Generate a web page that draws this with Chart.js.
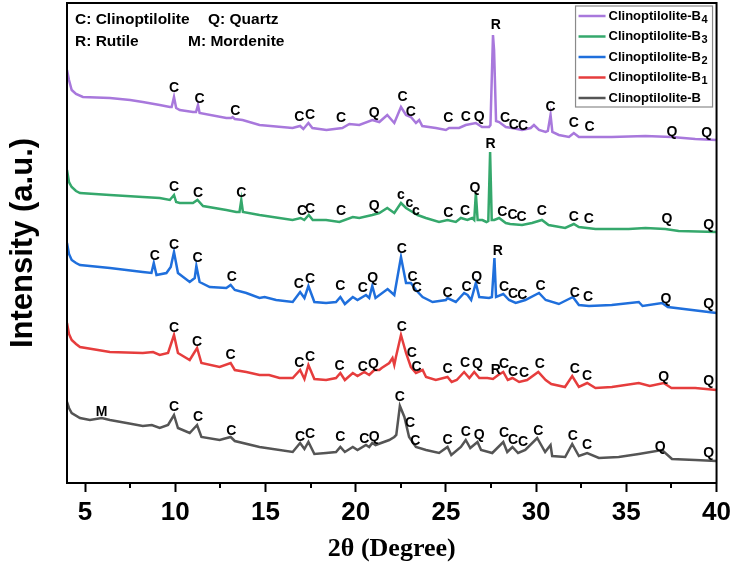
<!DOCTYPE html>
<html>
<head>
<meta charset="utf-8">
<title>XRD patterns of clinoptilolite samples</title>
<script src="https://cdn.jsdelivr.net/npm/chart.js@4.4.1/dist/chart.umd.min.js"></script>
<style>
  html, body { margin: 0; padding: 0; background: #fff; }
  #wrap { width: 736px; height: 569px; }
</style>
</head>
<body>
<div id="wrap"><canvas id="xrd-chart" width="736" height="569"></canvas></div>
<script>
// ===== DATA =====
// x axis
const xTicks = [5, 10, 15, 20, 25, 30, 35, 40];
const minorTicks = [7.5, 12.5, 17.5, 22.5, 27.5, 32.5, 37.5];

// legend (top to bottom) with subscripts
const legendBase = 'Clinoptilolite-B';
const legendSubs = ['4', '3', '2', '1', ''];

// Clinoptilolite-B4
const b4Angle = [4.00,4.11,4.26,4.50,4.88,6.38,7.50,8.20,9.14,9.70,9.80,9.93,10.05,10.25,10.98,11.15,11.26,11.35,12.83,13.10,13.18,13.30,13.73,14.67,16.50,16.92,17.10,17.38,17.60,18.38,19.26,19.65,20.20,20.92,21.31,21.75,22.14,22.51,22.79,23.06,23.34,23.52,23.69,24.44,25.00,25.18,25.73,26.10,26.66,27.00,27.39,27.47,27.61,27.67,27.78,27.95,28.32,28.66,29.22,29.70,29.88,30.16,30.53,30.65,30.80,30.90,31.26,31.82,32.09,32.37,33.29,34.19,36.06,37.51,38.82,40.00];
const b4Counts = [413,403,393,389,386,385,383,381,378,376,376,386,375,373,371,371,378,370,365,365,366,364,363,358,355,357,354,360,355,353,355,359,358,363,361,368,360,376,368,366,360,363,357,355,353,355,355,358,360,356,356,358,448,433,362,361,356,355,353,355,358,353,351,352,368,351,348,346,350,346,346,346,347,346,344,343];

// Clinoptilolite-B3
const b3Angle = [4.00,4.11,4.26,4.50,4.72,6.38,8.20,9.14,9.70,9.93,10.05,10.25,10.98,11.23,11.54,12.83,13.38,13.56,13.66,13.75,14.67,16.50,16.95,17.15,17.40,17.62,18.36,19.10,19.84,20.20,20.92,21.31,21.75,22.14,22.51,22.79,23.15,23.43,23.89,24.62,25.09,25.55,25.83,26.19,26.46,26.57,26.66,26.76,27.02,27.25,27.35,27.45,27.54,27.68,27.95,28.32,28.56,29.22,29.77,30.32,30.69,31.61,32.09,32.37,33.29,35.13,36.06,37.16,37.90,40.00];
const b3Counts = [313,301,296,292,290,288,286,285,283,288,281,280,280,283,277,273,271,271,283,271,268,263,265,263,268,263,263,261,266,265,268,270,275,270,280,275,271,268,265,261,263,261,265,263,265,263,290,263,263,261,262,331,263,263,265,260,259,258,260,263,258,255,259,256,254,254,255,254,252,251];

// Clinoptilolite-B2
const b2Angle = [4.00,4.11,4.26,4.50,4.72,6.38,8.20,8.68,8.81,8.96,9.51,9.75,9.93,10.15,10.80,11.08,11.17,11.35,11.91,12.83,13.07,13.30,13.94,14.67,14.95,15.59,16.51,16.92,17.16,17.38,17.71,18.36,18.91,19.15,19.40,19.84,20.10,20.57,20.75,20.92,21.10,21.77,22.14,22.51,22.79,23.06,23.34,23.71,24.26,25.00,25.09,25.55,26.01,26.20,26.40,26.66,26.85,27.39,27.55,27.69,27.78,28.18,28.50,28.87,29.40,30.16,30.53,31.26,32.04,32.37,32.93,34.19,35.69,35.90,36.98,37.30,40.00];
const b2Counts = [240,229,223,220,218,215,211,210,220,208,210,216,231,210,201,205,217,201,196,195,198,193,190,185,186,183,181,191,185,197,181,180,181,186,179,186,183,188,185,197,185,194,188,226,200,200,193,186,181,183,185,181,190,188,183,200,186,185,186,225,186,189,183,180,183,190,183,179,186,178,177,178,181,177,180,176,170];

// Clinoptilolite-B1
const b1Angle = [4.00,4.11,4.26,4.50,4.72,6.38,8.20,8.77,9.14,9.60,9.93,10.15,10.80,11.21,11.45,12.46,13.07,13.30,13.94,14.67,15.20,15.78,16.51,16.92,17.16,17.38,17.71,18.36,18.91,19.15,19.40,19.84,20.10,20.48,20.75,21.03,21.31,21.44,21.86,22.04,22.14,22.23,22.51,22.79,23.06,23.34,23.71,23.90,24.44,25.09,25.32,25.60,26.01,26.30,26.57,26.85,27.30,27.61,27.90,28.18,28.43,28.69,29.06,29.50,30.12,30.53,30.84,31.60,32.00,32.37,32.83,33.29,34.20,35.69,36.30,37.07,37.50,38.82,40.00];
const b1Counts = [160,149,143,139,136,131,130,131,128,130,148,130,123,135,120,116,120,113,111,108,108,105,105,113,104,118,104,103,105,110,103,110,107,111,108,113,113,115,120,125,118,126,148,130,116,110,113,106,103,106,101,103,111,105,111,105,105,104,108,111,103,105,101,103,111,103,99,96,107,96,100,95,96,100,97,100,95,95,93];

// Clinoptilolite-B
const bAngle = [4.00,4.11,4.26,4.72,5.27,5.92,6.38,7.30,8.20,8.70,9.14,9.60,9.93,10.15,10.80,11.21,11.45,12.46,13.07,13.30,14.67,16.51,16.92,17.16,17.38,17.71,18.36,18.91,19.15,19.40,19.84,20.10,20.57,20.75,20.92,21.10,21.86,22.14,22.25,22.45,22.70,22.96,23.34,23.90,24.62,25.09,25.30,25.83,26.10,26.35,26.75,26.95,27.57,28.18,28.40,28.69,29.00,29.40,30.06,30.50,30.80,30.89,31.61,32.00,32.37,32.83,33.48,34.58,35.69,36.98,37.53,38.82,40.00];
const bCounts = [81,75,70,65,63,65,63,60,57,58,55,58,68,55,50,58,46,43,46,42,36,31,40,34,41,29,30,31,36,31,36,33,38,36,40,38,43,46,48,77,66,46,36,33,30,36,28,36,43,35,41,33,30,41,31,36,30,33,45,31,38,27,26,39,27,30,25,26,29,33,24,23,22];

// peak labels: [2θ, intensity, phase letter]
const b4Peaks = [[9.93,395,'C'],[11.35,384,'C'],[13.33,372,'C'],[16.88,366,'C'],[17.47,368,'C'],[19.19,365,'C'],[21.03,370,'Q'],[22.60,386,'C'],[23.06,371,'C'],[25.14,365,'C'],[26.10,366,'C'],[26.84,366,'Q'],[27.76,458,'R'],[28.28,365,'C'],[28.77,358,'C'],[29.27,357,'C'],[30.80,376,'C'],[32.09,360,'C'],[32.96,356,'C'],[37.53,351,'Q'],[39.46,350,'Q']];
const b3Peaks = [[9.93,296,'C'],[11.26,290,'C'],[13.66,290,'C'],[17.03,272,'C'],[17.47,274,'C'],[19.19,272,'C'],[21.03,277,'Q'],[22.51,288,'c'],[22.97,280,'c'],[23.34,272,'c'],[25.14,270,'C'],[26.06,272,'C'],[26.61,295,'Q'],[27.48,339,'R'],[28.13,271,'C'],[28.69,268,'C'],[29.20,266,'C'],[30.31,272,'C'],[32.09,266,'C'],[32.92,264,'C'],[37.25,264,'Q'],[39.56,258,'Q']];
const b2Peaks = [[8.87,227,'C'],[9.93,238,'C'],[11.23,225,'C'],[13.14,206,'C'],[16.85,199,'C'],[17.47,204,'C'],[19.15,197,'C'],[20.39,195,'C'],[20.94,205,'Q'],[22.56,234,'C'],[23.15,206,'C'],[23.39,195,'C'],[25.09,190,'C'],[26.14,196,'C'],[26.71,206,'Q'],[27.87,232,'R'],[28.22,196,'C'],[28.72,189,'C'],[29.23,188,'C'],[30.25,197,'C'],[32.15,190,'C'],[32.88,186,'C'],[37.20,184,'Q'],[39.56,179,'Q']];
const b1Peaks = [[9.93,155,'C'],[11.21,141,'C'],[13.07,128,'C'],[16.88,120,'C'],[17.47,126,'C'],[19.10,117,'C'],[20.39,116,'C'],[20.99,119,'Q'],[22.56,156,'C'],[23.11,130,'C'],[23.37,116,'C'],[25.09,114,'C'],[26.06,120,'C'],[26.75,119,'Q'],[27.76,113,'R'],[28.22,119,'C'],[28.72,111,'C'],[29.33,110,'C'],[30.20,119,'C'],[32.15,114,'C'],[32.83,107,'C'],[37.07,106,'Q'],[39.56,102,'Q']];
const bPeaks = [[5.92,71,'M'],[9.93,76,'C'],[11.26,66,'C'],[13.11,52,'C'],[16.92,46,'C'],[17.47,49,'C'],[19.15,46,'C'],[20.48,44,'C'],[21.03,46,'Q'],[22.45,86,'C'],[23.01,60,'C'],[23.30,42,'C'],[25.09,43,'C'],[26.10,51,'C'],[26.84,48,'Q'],[28.22,50,'C'],[28.72,43,'C'],[29.27,41,'C'],[30.12,52,'C'],[32.04,47,'C'],[32.83,38,'C'],[36.88,36,'Q'],[39.56,30,'Q']];

// phase key text (top-left corner)
const phaseKey = [['C: Clinoptilolite', 'Q: Quartz'], ['R: Rutile', 'M: Mordenite']];

const SANS = "'Liberation Sans', Arial, Helvetica, sans-serif";
const SERIF = "'Liberation Serif', 'Times New Roman', serif";

/**
 * Builds and draws the stacked XRD pattern chart
 */
class XrdChartManager {
  constructor() {
    this.chart = null;
    this.init();
  }

  /**
   * Initialize chart
   */
  init() {
    const ctx = document.getElementById('xrd-chart');
    if (!ctx) return;

    const series = [
      { angle: b4Angle, counts: b4Counts, peaks: b4Peaks, color: '#a878dc' },
      { angle: b3Angle, counts: b3Counts, peaks: b3Peaks, color: '#35a86c' },
      { angle: b2Angle, counts: b2Counts, peaks: b2Peaks, color: '#1f6fdc' },
      { angle: b1Angle, counts: b1Counts, peaks: b1Peaks, color: '#e63d3d' },
      { angle: bAngle, counts: bCounts, peaks: bPeaks, color: '#555555' }
    ];

    this.chart = new Chart(ctx, {
      type: 'line',
      data: {
        datasets: series.map((s, i) => ({
          label: legendBase + legendSubs[i],
          data: s.angle.map((x, j) => ({ x: x, y: s.counts[j] })),
          peaks: s.peaks,
          borderColor: s.color,
          backgroundColor: s.color,
          borderWidth: 2.5,
          pointRadius: 0,
          tension: 0,
          fill: false
        }))
      },
      options: {
        responsive: false,
        animation: false,
        events: [],
        layout: { padding: { top: 3, right: 18, left: 0, bottom: 0 } },
        scales: {
          x: {
            type: 'linear',
            min: 4,
            max: 40,
            afterBuildTicks: scale => { scale.ticks = xTicks.map(v => ({ value: v })); },
            afterFit: scale => { scale.height = 86; },
            ticks: {
              color: '#000',
              padding: 5,
              font: { family: SANS, size: 26, weight: 'bold' }
            },
            grid: {
              drawOnChartArea: false,
              tickLength: 9,
              tickWidth: 2,
              tickColor: '#000'
            },
            border: { display: true, color: '#000', width: 2 },
            title: {
              display: true,
              text: '2θ (Degree)',
              color: '#000',
              padding: { top: 0, bottom: 4 },
              font: { family: SERIF, size: 26, weight: 'bold' }
            }
          },
          y: {
            min: 0,
            max: 480,
            afterFit: scale => { scale.width = 67; },
            ticks: { display: false },
            grid: { display: false },
            border: { display: true, color: '#000', width: 2 },
            title: {
              display: true,
              text: 'Intensity (a.u.)',
              color: '#000',
              padding: { top: 5, bottom: 0 },
              font: { family: SANS, size: 31, weight: 'bold' }
            }
          }
        },
        plugins: {
          legend: { display: false },
          tooltip: { enabled: false }
        }
      },
      plugins: [this.framePlugin(), this.peakLabelPlugin(), this.legendPlugin(), this.phaseKeyPlugin()]
    });
  }

  /**
   * Box around plot area plus minor x ticks
   */
  framePlugin() {
    return {
      id: 'frame',
      afterDraw(chart) {
        const { ctx, chartArea: a, scales: { x } } = chart;
        ctx.save();
        ctx.strokeStyle = '#000';
        ctx.lineWidth = 2;
        ctx.strokeRect(a.left, a.top, a.right - a.left, a.bottom - a.top);
        // minor ticks
        ctx.beginPath();
        minorTicks.forEach(v => {
          const px = Math.round(x.getPixelForValue(v));
          ctx.moveTo(px, a.bottom);
          ctx.lineTo(px, a.bottom + 5);
        });
        ctx.stroke();
        ctx.restore();
      }
    };
  }

  /**
   * Phase letters above the peaks
   */
  peakLabelPlugin() {
    return {
      id: 'peakLabels',
      afterDatasetsDraw(chart) {
        const { ctx, scales: { x, y } } = chart;
        ctx.save();
        ctx.fillStyle = '#000';
        ctx.textAlign = 'center';
        ctx.textBaseline = 'middle';
        ctx.font = `bold 14px ${SANS}`;
        chart.data.datasets.forEach(ds => {
          ds.peaks.forEach(([deg, val, letter]) => {
            ctx.fillText(letter, x.getPixelForValue(deg), y.getPixelForValue(val));
          });
        });
        ctx.restore();
      }
    };
  }

  /**
   * Legend box inside the top right corner, with subscripts
   */
  legendPlugin() {
    return {
      id: 'insetLegend',
      afterDraw(chart) {
        const { ctx, chartArea: a } = chart;
        const box = { left: a.right - 141, top: a.top + 3, width: 137, height: 101 };
        ctx.save();
        ctx.fillStyle = '#fff';
        ctx.fillRect(box.left, box.top, box.width, box.height);
        ctx.strokeStyle = '#8a8a8a';
        ctx.lineWidth = 1.2;
        ctx.strokeRect(box.left, box.top, box.width, box.height);
        ctx.textBaseline = 'middle';
        ctx.textAlign = 'left';
        chart.data.datasets.forEach((ds, i) => {
          const rowY = box.top + 10 + i * 20.5;
          ctx.strokeStyle = ds.borderColor;
          ctx.lineWidth = 2.5;
          ctx.beginPath();
          ctx.moveTo(box.left + 3, rowY);
          ctx.lineTo(box.left + 30, rowY);
          ctx.stroke();
          ctx.fillStyle = '#000';
          ctx.font = `bold 13px ${SANS}`;
          const tx = box.left + 33;
          ctx.fillText(legendBase, tx, rowY);
          if (legendSubs[i]) {
            const w = ctx.measureText(legendBase).width;
            ctx.font = `bold 11px ${SANS}`;
            ctx.fillText(legendSubs[i], tx + w + 0.5, rowY + 3.5);
          }
        });
        ctx.restore();
      }
    };
  }

  /**
   * Phase key in the top left corner
   */
  phaseKeyPlugin() {
    return {
      id: 'phaseKey',
      afterDraw(chart) {
        const { ctx, chartArea: a } = chart;
        ctx.save();
        ctx.fillStyle = '#000';
        ctx.textBaseline = 'middle';
        ctx.textAlign = 'left';
        ctx.font = `bold 15.5px ${SANS}`;
        ctx.fillText(phaseKey[0][0], a.left + 8, a.top + 17);
        ctx.fillText(phaseKey[0][1], a.left + 141, a.top + 17);
        ctx.fillText(phaseKey[1][0], a.left + 8, a.top + 39);
        ctx.fillText(phaseKey[1][1], a.left + 121, a.top + 39);
        ctx.restore();
      }
    };
  }
}

// ===== INITIALIZE CHART =====
window.XrdChartManager = XrdChartManager;

if (document.readyState === 'loading') {
  document.addEventListener('DOMContentLoaded', () => new XrdChartManager());
} else {
  new XrdChartManager();
}
</script>
</body>
</html>
